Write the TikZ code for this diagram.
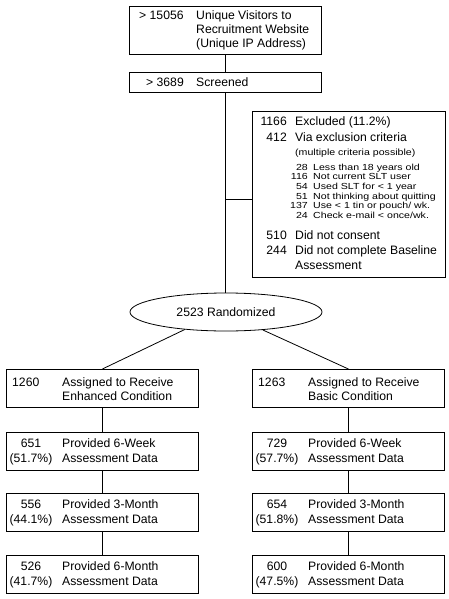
\documentclass[tikz,border=0pt]{standalone}
\usepackage{fontspec}
\usepackage{graphicx}
\setmainfont{Liberation Sans}
\usetikzlibrary{shapes.geometric}
\begin{document}
\begin{tikzpicture}[x=1pt,y=-1pt,
  box/.style={draw, line width=0.8pt, minimum width=192pt, inner sep=0pt, anchor=north west},
  conn/.style={line width=0.8pt},
  txt/.style={anchor=base west, inner sep=0pt, font=\fontsize{12.2}{14}\selectfont},
  numr/.style={anchor=base east, inner sep=0pt, font=\fontsize{12.2}{14}\selectfont},
  numc/.style={anchor=base, inner sep=0pt, font=\fontsize{12.2}{14}\selectfont},
  smt/.style={anchor=base west, inner sep=0pt, font=\fontsize{10.6}{10}\selectfont},
  smn/.style={anchor=base east, inner sep=0pt, font=\fontsize{10.6}{10}\selectfont}]
\useasboundingbox (0,0) rectangle (448,599);

% top
\node[box, minimum height=48pt] (top) at (129,6) {};
\node[txt] (topn) at (139,19.4) {> 15056};
\node[txt] (topa) at (196,19.4) {Unique Visitors to};
\node[txt] (topb) at (196,33.6) {Recruitment Website};
\node[txt] (topc) at (196,47.6) {(Unique IP Address)};

% screened
\node[box, minimum height=20pt] (scr) at (129,72) {};
\node[numr] (scrn) at (184,86.4) {> 3689};
\node[txt] (scrt) at (196,86.4) {Screened};

% excluded
\node[box, minimum width=193pt, minimum height=166pt] (excl) at (252,111) {};
\node[numr] (e1n) at (287,125.4) {1166};
\node[txt] (e1t) at (295,125.4) {Excluded (11.2\%)};
\node[numr] (e2n) at (287,141.0) {412};
\node[txt] (e2t) at (295,141.0) {Via exclusion criteria};
\node[smt] (e3t) at (295,155.8) {\scalebox{1}[0.85]{(multiple criteria possible)}};
\node[smn] (l1n) at (308,170.2) {\scalebox{1}[0.83]{28}};
\node[smt] (l1t) at (313,170.2) {\scalebox{1}[0.83]{Less than 18 years old}};
\node[smn] (l2n) at (308,179.8) {\scalebox{1}[0.83]{116}};
\node[smt] (l2t) at (313,179.8) {\scalebox{1}[0.83]{Not current SLT user}};
\node[smn] (l3n) at (308,189.4) {\scalebox{1}[0.83]{54}};
\node[smt] (l3t) at (313,189.4) {\scalebox{1}[0.83]{Used SLT for < 1 year}};
\node[smn] (l4n) at (308,199.0) {\scalebox{1}[0.83]{51}};
\node[smt] (l4t) at (313,199.0) {\scalebox{1}[0.83]{Not thinking about quitting}};
\node[smn] (l5n) at (308,208.6) {\scalebox{1}[0.83]{137}};
\node[smt] (l5t) at (313,208.6) {\scalebox{1}[0.83]{Use < 1 tin or pouch/ wk.}};
\node[smn] (l6n) at (308,218.2) {\scalebox{1}[0.83]{24}};
\node[smt] (l6t) at (313,218.2) {\scalebox{1}[0.83]{Check e-mail < once/wk.}};
\node[numr] (e4n) at (287,239.4) {510};
\node[txt] (e4t) at (295,239.4) {Did not consent};
\node[numr] (e5n) at (287,254.4) {244};
\node[txt] (e5t) at (295,254.4) {Did not complete Baseline};
\node[txt] (e6t) at (295,269.2) {Assessment};

% randomized
\node[draw, ellipse, line width=0.8pt, minimum width=192pt, minimum height=38pt, inner sep=0pt,
      font=\fontsize{12.2}{14}\selectfont] (rand) at (226,312) {2523 Randomized};

% left column
\node[box, minimum height=38pt] (la) at (6,369) {};
\node[txt] (lan) at (12,386.4) {1260};
\node[txt] (lat) at (62,386.4) {Assigned to Receive};
\node[txt] (lab) at (62,400.4) {Enhanced Condition};

\node[box, minimum height=38pt] (lw) at (6,432) {};
\node[numc] (lwn) at (31,447.4) {651};
\node[numc] (lwp) at (31,462.0) {(51.7\%)};
\node[txt] (lwt) at (62,447.4) {Provided 6-Week};
\node[txt] (lwb) at (62,462.0) {Assessment Data};

\node[box, minimum height=38pt] (lm) at (6,493) {};
\node[numc] (lmn) at (31,508.4) {556};
\node[numc] (lmp) at (31,523.0) {(44.1\%)};
\node[txt] (lmt) at (62,508.4) {Provided 3-Month};
\node[txt] (lmb) at (62,523.0) {Assessment Data};

\node[box, minimum height=38pt] (ls) at (6,555) {};
\node[numc] (lsn) at (31,570.4) {526};
\node[numc] (lsp) at (31,585.0) {(41.7\%)};
\node[txt] (lst) at (62,570.4) {Provided 6-Month};
\node[txt] (lsb) at (62,585.0) {Assessment Data};

% right column
\node[box, minimum height=38pt] (ra) at (252,369) {};
\node[txt] (ran) at (258,386.4) {1263};
\node[txt] (rat) at (308,386.4) {Assigned to Receive};
\node[txt] (rab) at (308,400.4) {Basic Condition};

\node[box, minimum height=38pt] (rw) at (252,432) {};
\node[numc] (rwn) at (277,447.4) {729};
\node[numc] (rwp) at (277,462.0) {(57.7\%)};
\node[txt] (rwt) at (308,447.4) {Provided 6-Week};
\node[txt] (rwb) at (308,462.0) {Assessment Data};

\node[box, minimum height=38pt] (rm) at (252,493) {};
\node[numc] (rmn) at (277,508.4) {654};
\node[numc] (rmp) at (277,523.0) {(51.8\%)};
\node[txt] (rmt) at (308,508.4) {Provided 3-Month};
\node[txt] (rmb) at (308,523.0) {Assessment Data};

\node[box, minimum height=38pt] (rs) at (252,555) {};
\node[numc] (rsn) at (277,570.4) {600};
\node[numc] (rsp) at (277,585.0) {(47.5\%)};
\node[txt] (rst) at (308,570.4) {Provided 6-Month};
\node[txt] (rsb) at (308,585.0) {Assessment Data};

% connectors
\coordinate (br) at (225,199);
\draw[conn] (top.south) -- (scr.north);
\draw[conn] (scr.south) -- (scr.south |- rand.north);
\draw[conn] (br) -- (br -| excl.west);
\draw[conn] (rand.203) -- (la.north);
\draw[conn] (rand.334) -- (ra.north);
\draw[conn] (la.south) -- (lw.north);
\draw[conn] (lw.south) -- (lm.north);
\draw[conn] (lm.south) -- (ls.north);
\draw[conn] (ra.south) -- (rw.north);
\draw[conn] (rw.south) -- (rm.north);
\draw[conn] (rm.south) -- (rs.north);
\end{tikzpicture}
\end{document}
